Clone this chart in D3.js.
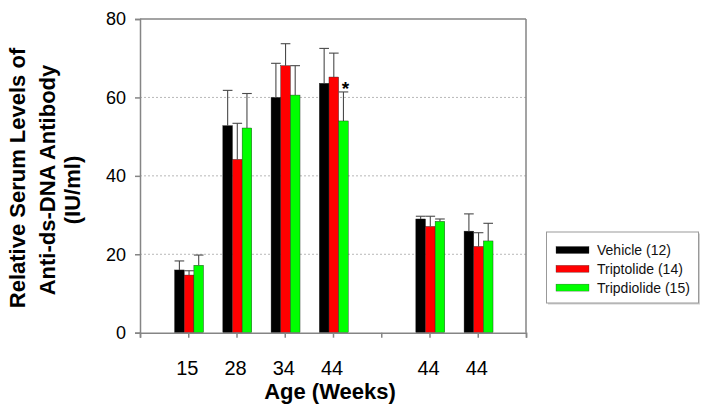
<!DOCTYPE html>
<html>
<head>
<meta charset="utf-8">
<script src="https://cdn.jsdelivr.net/npm/d3@7"></script>
<style>
  html, body { margin: 0; padding: 0; background: #fff; }
  svg { display: block; font-family: "Liberation Sans", Arial, Helvetica, sans-serif; }
</style>
</head>
<body>
<div id="chart"></div>
<script>
// ---- data ----
const categories = ["15", "28", "34", "44", "44", "44"];
const groupSlot = [1, 2, 3, 4, 6, 7];          // slot index of each group on the age axis
const seriesNames = ["Vehicle (12)", "Triptolide (14)", "Tripdiolide (15)"];
const vehicle = [16.0, 52.8, 60.0, 63.6, 29.0, 25.9];
const vehicleErr = [2.3, 9.0, 8.7, 8.9, 0.7, 4.4];
const triptolide = [14.7, 44.2, 68.1, 65.2, 27.1, 22.0];
const triptolideErr = [1.1, 9.2, 5.6, 6.1, 2.6, 3.5];
const tripdiolide = [17.2, 52.2, 60.6, 54.0, 28.4, 23.4];
const tripdiolideErr = [2.6, 8.8, 7.5, 7.4, 0.6, 4.5];
const yTicks = [0, 20, 40, 60, 80];
const gridValues = [20, 40, 60];
const significant = [{ group: 3, series: 2, mark: "*" }];

// ---- layout ----
const W = 712, H = 417;
const pLeft = 140, pRight = 526, pTop = 19, pBottom = 332.7;
const colors = ["#000000", "#ff0000", "#00ff00"];
const seriesVals = [vehicle, triptolide, tripdiolide];
const seriesErr = [vehicleErr, triptolideErr, tripdiolideErr];

const svg = d3.select("#chart").append("svg").attr("width", W).attr("height", H);
svg.append("rect").attr("width", W).attr("height", H).attr("fill", "#fff");

const x = d3.scaleLinear().domain([0, 8]).range([pLeft, pRight]);
const y = d3.scaleLinear().domain([0, 80]).range([pBottom, pTop]);
const bw = x(0.2) - x(0);

// gridlines
svg.append("g").selectAll("line").data(gridValues).join("line")
  .attr("x1", pLeft).attr("x2", pRight)
  .attr("y1", d => y(d)).attr("y2", d => y(d))
  .attr("stroke", "#b8b8b8").attr("stroke-width", 1).attr("stroke-dasharray", "2,2");

// bars
const barData = [];
seriesVals.forEach((vals, s) => vals.forEach((v, g) => barData.push({ s, g, v, e: seriesErr[s][g] })));
const barX = d => x(groupSlot[d.g]) - 1.5 * bw + d.s * bw + 0.8;

svg.append("g").selectAll("rect").data(barData).join("rect")
  .attr("x", barX).attr("width", bw)
  .attr("y", d => y(d.v)).attr("height", d => y(0) - y(d.v))
  .attr("fill", d => colors[d.s]).attr("stroke", "#222").attr("stroke-width", 0.4);

// error bars (upper only)
const eg = svg.append("g").attr("stroke", "#4a4a4a").attr("stroke-width", 1.1);
barData.forEach(d => {
  const cx = barX(d) + bw / 2;
  eg.append("line").attr("x1", cx).attr("x2", cx).attr("y1", y(d.v)).attr("y2", y(d.v + d.e));
  eg.append("line").attr("x1", cx - bw / 2).attr("x2", cx + bw / 2).attr("y1", y(d.v + d.e)).attr("y2", y(d.v + d.e));
});

// significance marks
significant.forEach(m => {
  const d = barData.find(b => b.g === m.group && b.s === m.series);
  svg.append("text").attr("x", barX(d) + bw / 2 + 2).attr("y", y(d.v + d.e) + 3)
    .attr("text-anchor", "middle").attr("font-size", 19).attr("font-weight", "bold")
    .attr("fill", "#000").text(m.mark);
});

// frame
const frame = svg.append("g").attr("stroke", "#858585").attr("stroke-width", 1.5).attr("fill", "none");
frame.append("line").attr("x1", pLeft).attr("x2", pRight).attr("y1", pTop).attr("y2", pTop);
frame.append("line").attr("x1", pRight).attr("x2", pRight).attr("y1", pTop).attr("y2", pBottom);

// y axis
const yAxis = svg.append("g").attr("transform", `translate(${pLeft},0)`)
  .call(d3.axisLeft(y).tickValues(yTicks).tickSize(5).tickPadding(9));
yAxis.select(".domain").attr("stroke", "#858585").attr("stroke-width", 1.5);
yAxis.selectAll(".tick line").attr("stroke", "#858585").attr("stroke-width", 1.5);
yAxis.selectAll(".tick text").attr("font-size", 18).attr("fill", "#000")
  .attr("font-family", "Liberation Sans, Arial, sans-serif");

// x axis (ticks at every slot, labels only on groups)
const xAxis = svg.append("g").attr("transform", `translate(0,${pBottom})`)
  .call(d3.axisBottom(x).tickValues(d3.range(0, 9)).tickSize(5).tickFormat(() => ""));
xAxis.select(".domain").attr("stroke", "#858585").attr("stroke-width", 1.5);
xAxis.selectAll(".tick line").attr("stroke", "#858585").attr("stroke-width", 1.5);

svg.append("g").selectAll("text").data(categories).join("text")
  .attr("x", (d, i) => x(groupSlot[i]) - 1).attr("y", 375)
  .attr("text-anchor", "middle").attr("font-size", 20).attr("fill", "#000").text(d => d);

// x title
svg.append("text").attr("x", 330).attr("y", 399).attr("text-anchor", "middle")
  .attr("font-size", 22).attr("font-weight", "bold").attr("fill", "#000").text("Age (Weeks)");

// y title
const yTitle = [
  { t: "Relative Serum Levels of", x: 25, c: 178 },
  { t: "Anti-ds-DNA Antibody", x: 54.5, c: 180 },
  { t: "(IU/ml)", x: 80, c: 190 }
];
yTitle.forEach(l => {
  svg.append("text").attr("transform", `translate(${l.x},${l.c}) rotate(-90)`)
    .attr("text-anchor", "middle").attr("font-size", 22).attr("font-weight", "bold")
    .attr("fill", "#000").text(l.t);
});

// legend
const lg = svg.append("g");
lg.append("rect").attr("x", 548).attr("y", 233.5).attr("width", 152).attr("height", 71).attr("fill", "#d0d0d0");
lg.append("rect").attr("x", 546.5).attr("y", 232).attr("width", 152).attr("height", 71)
  .attr("fill", "#fff").attr("stroke", "#999").attr("stroke-width", 1);
seriesNames.forEach((n, i) => {
  const ry = 250 + i * 18.8;
  lg.append("rect").attr("x", 556).attr("y", ry - 3.5).attr("width", 33).attr("height", 7)
    .attr("fill", colors[i]).attr("stroke", "#333").attr("stroke-width", 0.3);
  lg.append("text").attr("x", 597).attr("y", ry + 5).attr("font-size", 14).attr("fill", "#111").text(n);
});
</script>
</body>
</html>
